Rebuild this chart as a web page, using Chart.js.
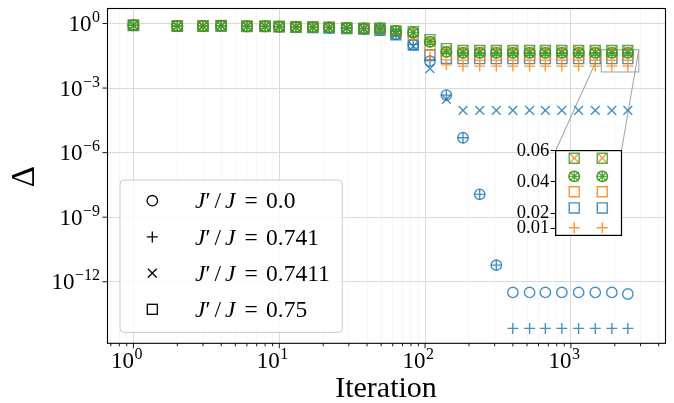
<!DOCTYPE html>
<html><head><meta charset="utf-8">
<script src="https://cdn.jsdelivr.net/npm/chart.js@4.4.1/dist/chart.umd.min.js"></script>
<style>
html,body{margin:0;padding:0;background:#fff;}
#wrap{position:relative;width:674px;height:403px;overflow:hidden;}
#main{position:absolute;left:0;top:0;}
#inset{position:absolute;left:490px;top:138px;}
</style></head><body>
<div id="wrap"><canvas id="main" width="674" height="403"></canvas><canvas id="inset" width="140" height="110"></canvas></div>
<script>
// ---------------- data ----------------
const iterations = [1,2,3,4,6,8,10,13,17,22,29,38,49,63,83,108,140,182,237,308,400,521,668,867,1130,1469,1909,2457];

const legendLabels = ['0.0','0.741','0.7411','0.75'];

const blueCircle   = [0.82,0.75,0.75,0.78,0.73,0.73,0.71,0.67,0.66,0.63,0.59,0.56,0.50,0.32,0.105,0.0178,4.7e-4,4.9e-6,1.15e-8,5.9e-12,3.2e-13,3.2e-13,3.2e-13,3.2e-13,3.2e-13,3.2e-13,3.2e-13,2.7e-13];
const bluePlus     = [0.82,0.75,0.75,0.78,0.73,0.73,0.71,0.67,0.66,0.63,0.59,0.56,0.50,0.32,0.105,0.019,4.7e-4,4.9e-6,1.15e-8,5.9e-12,6.8e-15,6.8e-15,6.8e-15,6.8e-15,6.8e-15,6.8e-15,6.8e-15,6.8e-15];
const blueCross    = [0.82,0.75,0.75,0.78,0.73,0.73,0.71,0.67,0.66,0.63,0.59,0.56,0.49,0.31,0.089,0.0081,2.95e-4,9.3e-5,9.3e-5,9.3e-5,9.3e-5,9.3e-5,9.3e-5,9.3e-5,9.3e-5,9.3e-5,9.3e-5,9.3e-5];
const blueSquare   = [0.81,0.74,0.74,0.77,0.72,0.72,0.70,0.66,0.65,0.62,0.58,0.55,0.48,0.30,0.10,0.035,0.024,0.0233,0.0233,0.0233,0.0233,0.0233,0.0233,0.0233,0.0233,0.0233,0.0233,0.0233];

const orangeCircle = [0.84,0.77,0.77,0.80,0.75,0.75,0.73,0.71,0.70,0.67,0.63,0.60,0.60,0.44,0.38,0.141,0.048,0.0436,0.0436,0.0436,0.0436,0.0436,0.0436,0.0436,0.0436,0.0436,0.0436,0.0436];
const orangePlus   = [0.84,0.77,0.77,0.80,0.75,0.75,0.73,0.71,0.70,0.67,0.63,0.60,0.58,0.42,0.25,0.028,0.012,0.0105,0.0105,0.0105,0.0105,0.0105,0.0105,0.0105,0.0105,0.0105,0.0105,0.0105];
const orangeCross  = [0.85,0.78,0.78,0.81,0.76,0.76,0.74,0.72,0.71,0.68,0.64,0.61,0.62,0.46,0.40,0.166,0.063,0.0553,0.0553,0.0553,0.0553,0.0553,0.0553,0.0553,0.0553,0.0553,0.0553,0.0553];
const orangeSquare = [0.84,0.77,0.77,0.80,0.75,0.75,0.73,0.71,0.70,0.67,0.63,0.60,0.59,0.43,0.32,0.10,0.035,0.0337,0.0337,0.0337,0.0337,0.0337,0.0337,0.0337,0.0337,0.0337,0.0337,0.0337];

const greenCircle  = [0.83,0.76,0.76,0.79,0.74,0.74,0.72,0.69,0.68,0.66,0.62,0.59,0.60,0.44,0.38,0.141,0.048,0.0436,0.0436,0.0436,0.0436,0.0436,0.0436,0.0436,0.0436,0.0436,0.0436,0.0436];
const greenPlus    = [0.83,0.76,0.76,0.79,0.74,0.74,0.72,0.69,0.68,0.66,0.62,0.59,0.60,0.44,0.38,0.141,0.048,0.0436,0.0436,0.0436,0.0436,0.0436,0.0436,0.0436,0.0436,0.0436,0.0436,0.0436];
const greenCross   = [0.83,0.76,0.76,0.79,0.74,0.74,0.72,0.69,0.68,0.66,0.62,0.59,0.60,0.44,0.38,0.141,0.048,0.0436,0.0436,0.0436,0.0436,0.0436,0.0436,0.0436,0.0436,0.0436,0.0436,0.0436];
const greenSquare  = [0.83,0.76,0.76,0.79,0.74,0.74,0.72,0.69,0.68,0.66,0.62,0.59,0.61,0.45,0.42,0.178,0.068,0.0553,0.0553,0.0553,0.0553,0.0553,0.0553,0.0553,0.0553,0.0553,0.0553,0.0553];

// tick labels
const xTicks = [1,10,100,1000];
const xTickExp = ['0','1','2','3'];
const yTicks = [1,1e-3,1e-6,1e-9,1e-12];
const yTickExp = ['0','\u22123','\u22126','\u22129','\u221212'];
const insetTicks = [0.01,0.02,0.04,0.06];
const insetTickLabels = ['0.01','0.02','0.04','0.06'];

// ---------------- styling ----------------
const FONT = '"Liberation Serif", "DejaVu Serif", serif';
Chart.defaults.font.family = FONT;
const C = {blue:'rgba(31,119,180,0.82)', orange:'rgba(255,127,14,0.82)', green:'rgba(44,160,44,0.82)'};
const STY = {
  circle:{pointStyle:'circle', r:5.2},
  plus:{pointStyle:'cross', r:5.5},
  cross:{pointStyle:'crossRot', r:6.2},
  square:{pointStyle:'rect', r:7.1}
};
const seriesList = [
  [blueCircle,'blue','circle'],[bluePlus,'blue','plus'],[blueCross,'blue','cross'],[blueSquare,'blue','square'],
  [orangeCircle,'orange','circle'],[orangePlus,'orange','plus'],[orangeCross,'orange','cross'],[orangeSquare,'orange','square'],
  [greenCircle,'green','circle'],[greenPlus,'green','plus'],[greenCross,'green','cross'],[greenSquare,'green','square']
];
function makeDatasets(sliceFrom){
  const ds = seriesList.map(([arr,col,st]) => {
    const xs = sliceFrom ? iterations.slice(sliceFrom) : iterations;
    const ys = sliceFrom ? arr.slice(sliceFrom) : arr;
    return {
      data: xs.map((x,i)=>({x:x, y:ys[i]})),
      showLine:false,
      pointStyle: STY[st].pointStyle,
      pointRadius: STY[st].r,
      pointHoverRadius: STY[st].r,
      pointBorderWidth: 1.4,
      pointBorderColor: C[col],
      pointBackgroundColor: 'rgba(0,0,0,0)',
      borderColor: C[col],
      backgroundColor: 'rgba(0,0,0,0)'
    };
  });
  return ds.reverse(); // Chart.js draws dataset 0 last (on top)
}

// inset ranges
const insetX = [1616, 2920];
const insetY = [0.0056, 0.0602];
const insetOffset = {left:490, top:138};

// ---------------- inset chart ----------------
const insetDecor = {
  id:'insetDecor',
  beforeDraw(chart){
    const {ctx, chartArea:a} = chart;
    ctx.save(); ctx.fillStyle='#fff'; ctx.fillRect(a.left,a.top,a.right-a.left,a.bottom-a.top); ctx.restore();
  },
  afterDraw(chart){
    const {ctx, chartArea:a} = chart;
    ctx.save(); ctx.strokeStyle='#000'; ctx.lineWidth=1.2;
    ctx.strokeRect(a.left,a.top,a.right-a.left,a.bottom-a.top); ctx.restore();
  }
};
const insetChart = new Chart(document.getElementById('inset'), {
  type:'scatter',
  data:{datasets: makeDatasets(26)},
  options:{
    responsive:false, animation:false, events:[],
    layout:{padding:{top:10.7,right:5.7,bottom:4.7,left:0}},
    plugins:{legend:{display:false}, tooltip:{enabled:false}},
    scales:{
      x:{type:'logarithmic', min:insetX[0], max:insetX[1], display:false, bounds:'data'},
      y:{type:'linear', min:insetY[0], max:insetY[1], bounds:'data',
         afterFit:(s)=>{s.width=65.7;},
         afterBuildTicks:(s)=>{s.ticks = insetTicks.map(v=>({value:v}));},
         ticks:{callback:(v)=>{const i=insetTicks.indexOf(v); return i>=0?insetTickLabels[i]:'';}, color:'#000', font:{size:18.5, family:FONT}, padding:1.5, autoSkip:false},
         grid:{drawOnChartArea:false, drawTicks:true, tickLength:5, tickColor:'#000', tickWidth:1},
         border:{display:true, color:'#000', width:1}
      }
    }
  },
  plugins:[insetDecor]
});

// ---------------- main chart ----------------
const xMinor = [];
for (let k=-1;k<=3;k++){ for (let m=2;m<=9;m++){ const v=m*Math.pow(10,k); if (v>0.66 && v<4450) xMinor.push(v);} }

const mainDecor = {
  id:'mainDecor',
  beforeDatasetsDraw(chart){
    const {ctx, scales:{x,y}} = chart;
    const x0=x.getPixelForValue(insetX[0]), x1=x.getPixelForValue(insetX[1]);
    const y0=y.getPixelForValue(insetY[1]), y1=y.getPixelForValue(insetY[0]);
    const ia = insetChart.chartArea;
    const iL = ia.left+insetOffset.left, iR = ia.right+insetOffset.left, iT = ia.top+insetOffset.top;
    ctx.save();
    ctx.strokeStyle='rgba(160,160,160,0.9)'; ctx.lineWidth=1.1;
    ctx.strokeRect(x0,y0,x1-x0,y1-y0);
    ctx.beginPath();
    ctx.moveTo(x0,y0); ctx.lineTo(iL,iT);
    ctx.moveTo(x1,y0); ctx.lineTo(iR,iT);
    ctx.stroke();
    ctx.restore();
  },
  afterDraw(chart){
    const {ctx, chartArea:a, scales:{x,y}} = chart;
    ctx.save();
    // frame
    ctx.strokeStyle='#000'; ctx.lineWidth=1.1;
    ctx.strokeRect(a.left,a.top,a.right-a.left,a.bottom-a.top);
    // ticks
    ctx.beginPath();
    xTicks.forEach(v=>{const p=x.getPixelForValue(v); ctx.moveTo(p,a.bottom); ctx.lineTo(p,a.bottom+5);});
    xMinor.forEach(v=>{const p=x.getPixelForValue(v); ctx.moveTo(p,a.bottom); ctx.lineTo(p,a.bottom+3);});
    yTicks.forEach(v=>{const p=y.getPixelForValue(v); ctx.moveTo(a.left-5,p); ctx.lineTo(a.left,p);});
    ctx.lineWidth=0.9; ctx.stroke();
    // tick labels
    ctx.fillStyle='#000';
    ctx.textBaseline='alphabetic';
    const bf = '23px '+FONT, ef = '16px '+FONT;
    xTicks.forEach((v,i)=>{
      const p=x.getPixelForValue(v);
      ctx.font=bf; ctx.textAlign='right'; ctx.fillText('10', p+0.5, a.bottom+24.5);
      ctx.font=ef; ctx.textAlign='left'; ctx.fillText(xTickExp[i], p+1, a.bottom+15.5);
    });
    yTicks.forEach((v,i)=>{
      const p=y.getPixelForValue(v);
      const xr = a.left-7.5;
      ctx.font=ef; ctx.textAlign='right'; ctx.fillText(yTickExp[i], xr, p-1.5);
      const ew = ctx.measureText(yTickExp[i]).width;
      ctx.font=bf; ctx.fillText('10', xr-ew-0.5, p+7.6);
    });
    // axis titles
    ctx.font='30px '+FONT; ctx.textAlign='center';
    ctx.fillText('Iteration', 386, 397);
    ctx.save(); ctx.translate(25,176.7); ctx.rotate(-Math.PI/2);
    ctx.font='33px '+FONT; ctx.textBaseline='middle'; ctx.fillText('\u0394',0,0); ctx.restore();

    // legend
    const L={x:120,y:180,w:222.3,h:152.3,r:4};
    ctx.beginPath();
    ctx.moveTo(L.x+L.r,L.y); ctx.lineTo(L.x+L.w-L.r,L.y); ctx.quadraticCurveTo(L.x+L.w,L.y,L.x+L.w,L.y+L.r);
    ctx.lineTo(L.x+L.w,L.y+L.h-L.r); ctx.quadraticCurveTo(L.x+L.w,L.y+L.h,L.x+L.w-L.r,L.y+L.h);
    ctx.lineTo(L.x+L.r,L.y+L.h); ctx.quadraticCurveTo(L.x,L.y+L.h,L.x,L.y+L.h-L.r);
    ctx.lineTo(L.x,L.y+L.r); ctx.quadraticCurveTo(L.x,L.y,L.x+L.r,L.y); ctx.closePath();
    ctx.fillStyle='rgba(255,255,255,0.8)'; ctx.fill();
    ctx.strokeStyle='#cccccc'; ctx.lineWidth=1; ctx.stroke();
    const rows=[200.7,236.9,273.1,309.3];
    const mx=152.3;
    ctx.strokeStyle='#000'; ctx.lineWidth=1.3;
    ctx.beginPath(); ctx.arc(mx,rows[0],5.2,0,Math.PI*2); ctx.stroke();
    ctx.beginPath(); ctx.moveTo(mx-5.5,rows[1]); ctx.lineTo(mx+5.5,rows[1]); ctx.moveTo(mx,rows[1]-5.5); ctx.lineTo(mx,rows[1]+5.5); ctx.stroke();
    ctx.beginPath(); ctx.moveTo(mx-4.4,rows[2]-4.4); ctx.lineTo(mx+4.4,rows[2]+4.4); ctx.moveTo(mx+4.4,rows[2]-4.4); ctx.lineTo(mx-4.4,rows[2]+4.4); ctx.stroke();
    ctx.strokeRect(mx-5,rows[3]-5,10,10);
    ctx.fillStyle='#000'; ctx.textAlign='left'; ctx.textBaseline='alphabetic';
    rows.forEach((ry,i)=>{
      const by=ry+7.6;
      ctx.font='italic 23.5px '+FONT; ctx.fillText('J',195,by);
      ctx.font='23.5px '+FONT; ctx.fillText('\u2032',205.5,by);
      ctx.fillText('/',214.5,by);
      ctx.font='italic 23.5px '+FONT; ctx.fillText('J',225,by);
      ctx.font='23.5px '+FONT; ctx.fillText('=',244.5,by);
      ctx.fillText(legendLabels[i],266,by);
    });
    ctx.restore();
  }
};

const allXTicks = xTicks.concat(xMinor).sort((a,b)=>a-b);
new Chart(document.getElementById('main'), {
  type:'scatter',
  data:{datasets: makeDatasets(0)},
  options:{
    responsive:false, animation:false, events:[],
    layout:{padding:{top:8.3,right:8,bottom:0,left:0}},
    plugins:{legend:{display:false}, tooltip:{enabled:false}},
    scales:{
      x:{type:'logarithmic', min:0.664, max:4454, bounds:'data',
         afterFit:(s)=>{s.height=59.7;},
         afterBuildTicks:(s)=>{s.ticks = allXTicks.map(v=>({value:v}));},
         ticks:{display:false},
         grid:{drawTicks:false, lineWidth:1,
               color:(c)=> (c.tick && xTicks.indexOf(c.tick.value)>=0) ? '#dadada' : 'rgba(0,0,0,0.035)'},
         border:{display:false}
      },
      y:{type:'logarithmic', min:1.38e-15, max:4.98, bounds:'data',
         afterFit:(s)=>{s.width=107.5;},
         afterBuildTicks:(s)=>{s.ticks = yTicks.map(v=>({value:v}));},
         ticks:{display:false},
         grid:{drawTicks:false, lineWidth:1, color:'#dadada'},
         border:{display:false}
      }
    }
  },
  plugins:[mainDecor]
});
</script>
</body></html>
